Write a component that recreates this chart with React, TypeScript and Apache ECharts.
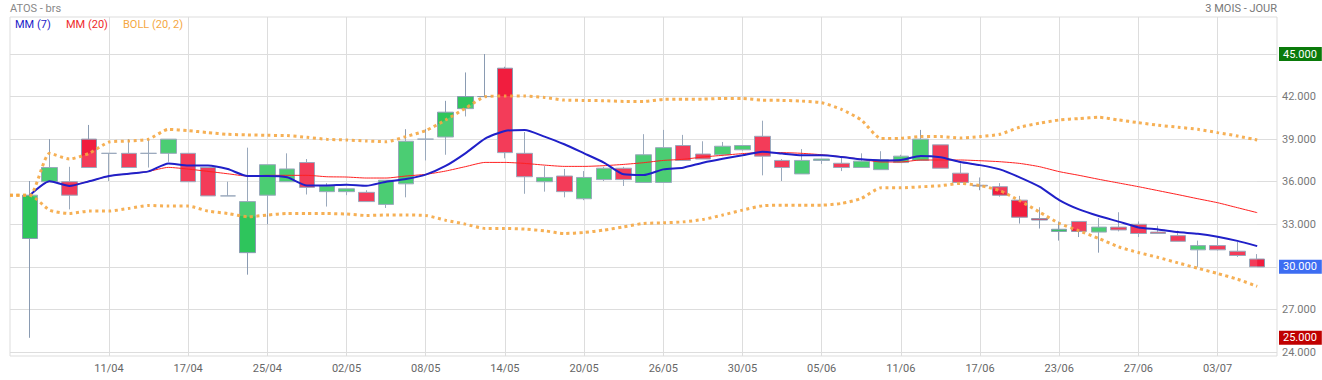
import React, { useEffect, useRef } from "react";
import * as echarts from "echarts";

// Categories (pos 0 and last are padding slots)
const dates = ["04/04", "07/04", "08/04", "09/04", "10/04", "11/04", "14/04", "15/04", "16/04", "17/04", "22/04", "23/04", "24/04", "25/04", "28/04", "29/04", "30/04", "02/05", "05/05", "06/05", "07/05", "08/05", "09/05", "12/05", "13/05", "14/05", "15/05", "16/05", "19/05", "20/05", "21/05", "22/05", "23/05", "26/05", "27/05", "28/05", "29/05", "30/05", "02/06", "03/06", "04/06", "05/06", "06/06", "09/06", "10/06", "11/06", "12/06", "13/06", "16/06", "17/06", "18/06", "19/06", "20/06", "23/06", "24/06", "25/06", "26/06", "27/06", "30/06", "01/07", "02/07", "03/07", "04/07", "07/07", "08/07"];

const opens = [32.0, 36.0, 36.0, 39.0, 38.0, 38.0, 38.0, 38.0, 38.0, 37.0, 35.0, 31.0, 35.05, 36.0, 37.35, 35.3, 35.3, 35.25, 34.4, 35.85, 39.0, 39.15, 41.15, 42.0, 44.0, 38.0, 36.0, 36.4, 34.8, 36.15, 36.95, 35.95, 35.95, 38.55, 37.95, 37.9, 38.25, 39.2, 37.5, 36.55, 37.5, 37.3, 37.0, 36.85, 37.35, 37.5, 38.6, 36.6, 35.75, 35.65, 34.7, 33.4, 32.5, 33.2, 32.45, 32.8, 33.0, 32.45, 32.2, 31.2, 31.5, 31.1, 30.55];
const closes = [35.05, 37.0, 35.05, 37.0, 38.0, 37.0, 38.0, 39.0, 36.0, 35.0, 35.0, 34.6, 37.2, 36.9, 35.6, 35.7, 35.5, 34.6, 36.1, 38.85, 39.0, 40.9, 42.0, 42.0, 38.05, 36.35, 36.3, 35.3, 36.3, 36.95, 36.15, 37.9, 38.4, 37.5, 37.6, 38.5, 38.55, 37.8, 37.0, 37.5, 37.6, 37.0, 37.45, 37.55, 37.8, 39.0, 36.95, 35.95, 35.7, 35.05, 33.5, 33.3, 32.65, 32.5, 32.8, 32.6, 32.35, 32.35, 31.8, 31.5, 31.2, 30.8, 30.0];
const lows = [25.0, 36.0, 34.05, 37.0, 36.05, 37.0, 37.0, 37.4, 36.0, 35.0, 35.0, 29.45, 33.0, 36.0, 35.1, 34.25, 35.05, 34.6, 34.15, 34.9, 37.5, 37.9, 40.6, 42.0, 37.65, 35.15, 35.3, 34.9, 34.7, 36.05, 35.7, 35.95, 35.95, 37.5, 37.6, 37.8, 38.2, 36.45, 36.05, 36.55, 37.25, 36.75, 37.0, 36.85, 37.35, 37.5, 36.95, 35.95, 35.4, 34.95, 33.05, 32.7, 31.85, 32.1, 31.0, 32.5, 32.1, 32.35, 31.8, 30.0, 31.15, 30.7, 30.0];
const highs = [36.05, 39.0, 37.05, 40.0, 38.0, 39.0, 39.0, 39.0, 38.0, 37.0, 36.0, 38.4, 37.2, 38.0, 37.6, 35.9, 35.5, 35.4, 36.1, 39.7, 39.7, 41.7, 43.7, 45.0, 44.1, 39.5, 37.1, 36.9, 36.75, 37.05, 37.05, 39.35, 39.65, 39.3, 38.85, 38.8, 38.55, 40.3, 37.6, 38.3, 37.6, 37.7, 38.0, 38.15, 37.9, 39.65, 38.6, 37.3, 36.3, 35.9, 35.0, 34.2, 33.2, 33.2, 33.45, 33.85, 33.2, 32.9, 32.55, 31.85, 32.15, 31.75, 30.9];

const mm7 = [35.04, 36.03, 35.70, 36.03, 36.40, 36.56, 36.73, 37.29, 37.15, 37.15, 36.89, 36.40, 36.40, 36.31, 35.74, 35.74, 35.79, 35.72, 36.0, 36.19, 36.5, 37.11, 38.0, 39.04, 39.58, 39.65, 39.18, 38.64, 38.0, 37.35, 36.52, 36.47, 36.87, 36.99, 37.34, 37.62, 37.86, 38.12, 37.98, 37.86, 37.86, 37.74, 37.58, 37.5, 37.53, 37.81, 37.72, 37.39, 37.17, 36.87, 36.31, 35.65, 34.71, 34.05, 33.58, 33.19, 32.78, 32.64, 32.45, 32.33, 32.12, 31.83, 31.46];
const mm20 = [35.04, 36.03, 35.75, 36.03, 36.40, 36.56, 36.73, 37.01, 36.89, 36.73, 36.56, 36.40, 36.45, 36.45, 36.45, 36.35, 36.33, 36.26, 36.26, 36.4, 36.52, 36.75, 37.06, 37.36, 37.36, 37.29, 37.17, 37.08, 37.08, 37.13, 37.22, 37.34, 37.5, 37.58, 37.74, 37.86, 37.98, 38.05, 38.05, 38.0, 37.9, 37.76, 37.58, 37.39, 37.39, 37.53, 37.53, 37.53, 37.48, 37.41, 37.29, 37.06, 36.71, 36.45, 36.17, 35.91, 35.65, 35.37, 35.09, 34.8, 34.52, 34.17, 33.82];
// Bollinger bands include the leading padding slot
const bollUpper = [35.04, 35.04, 38.0, 37.6, 38.0, 38.8, 38.87, 39.0, 39.69, 39.6, 39.46, 39.34, 39.3, 39.27, 39.25, 39.13, 38.99, 38.94, 38.87, 38.82, 39.18, 39.6, 40.35, 41.17, 41.99, 42.04, 42.04, 41.94, 41.75, 41.73, 41.71, 41.66, 41.66, 41.8, 41.82, 41.82, 41.87, 41.87, 41.75, 41.73, 41.68, 41.57, 41.1, 40.35, 39.04, 39.06, 39.18, 39.18, 39.08, 39.18, 39.34, 39.84, 40.12, 40.35, 40.45, 40.54, 40.35, 40.16, 39.98, 39.84, 39.69, 39.46, 39.22, 38.94];
const bollLower = [35.04, 35.04, 34.0, 33.76, 33.93, 33.93, 34.12, 34.33, 34.28, 34.28, 33.93, 33.76, 33.53, 33.65, 33.76, 33.76, 33.76, 33.72, 33.62, 33.65, 33.65, 33.62, 33.29, 33.01, 32.71, 32.71, 32.66, 32.54, 32.35, 32.42, 32.59, 32.82, 33.06, 33.1, 33.17, 33.34, 33.65, 34.0, 34.3, 34.35, 34.35, 34.35, 34.47, 34.82, 35.57, 35.57, 35.64, 35.72, 35.88, 35.72, 35.37, 34.66, 33.87, 33.06, 32.54, 32.0, 31.41, 31.01, 30.66, 30.28, 29.9, 29.53, 29.13, 28.63];

const yMin = 24;
const yMax = 45;
const yStep = 3;

const UP = "#2ec55c";
const DOWN = "#f11d3e";
const WICK = "#8a9bb2";

export default function App() {
  const ref = useRef<HTMLDivElement>(null);

  useEffect(() => {
    const chart = echarts.init(ref.current!, null, { renderer: "svg" });
    const padLine = (arr: number[]) => ["-", ...arr, "-"];
    const candles: any[] = [["-", "-", "-", "-"]];
    for (let i = 0; i < opens.length; i++) candles.push([opens[i], closes[i], lows[i], highs[i]]);
    candles.push(["-", "-", "-", "-"]);
    const upperP = [...bollUpper, "-"];
    const lowerP = [...bollLower, "-"];
    const diffP = [...bollUpper.map((u, i) => +(u - bollLower[i]).toFixed(3)), "-"];
    const maxHigh = Math.max(...highs);
    const minLow = Math.min(...lows);
    const lastClose = closes[closes.length - 1];
    const showIdx = (i: number) => i >= 5 && i <= 61 && (i - 1) % 4 === 0;

    const mk = (v: number, bg: string) => ({
      yAxis: v,
      label: {
        show: true,
        position: "end",
        distance: 2,
        formatter: () => v.toFixed(3),
        color: "#fff",
        backgroundColor: bg,
        padding: [2, 5, 1, 4],
        fontSize: 11,
        fontFamily: "Roboto",
      },
    });

    chart.setOption({
      animation: false,
      backgroundColor: "#fff",
      textStyle: { fontFamily: "Roboto" },
      grid: [
        { left: 10, right: 45, top: 17, bottom: 24, show: true, borderColor: "#dddddd", borderWidth: 1 },
        { left: 10, right: 45, top: 54, bottom: 28 },
      ],
      xAxis: [
        {
          type: "category",
          gridIndex: 0,
          data: dates,
          boundaryGap: false,
          axisLine: { show: false },
          axisTick: { show: false },
          axisLabel: { interval: (i: number) => showIdx(i), color: "#666", fontSize: 11, margin: 7 },
          splitLine: { show: true, interval: (i: number) => showIdx(i), lineStyle: { color: "#dddddd", width: 1 } },
        },
        {
          type: "category",
          gridIndex: 1,
          data: dates,
          boundaryGap: false,
          show: false,
        },
      ],
      yAxis: [
        { type: "value", gridIndex: 0, min: 0, max: 1, show: false, splitLine: { show: false } },
        {
          type: "value",
          gridIndex: 1,
          position: "right",
          min: yMin,
          max: yMax,
          interval: yStep,
          axisLine: { show: false },
          axisTick: { show: false },
          axisLabel: { color: "#777", fontSize: 11, margin: 5, formatter: (v: number) => v.toFixed(3) },
          splitLine: { show: true, lineStyle: { color: "#dddddd", width: 1 } },
        },
      ],
      graphic: [
        { type: "text", left: 10, top: 3, style: { text: "ATOS - brs", fill: "#888", fontSize: 11, fontFamily: "Roboto" } },
        { type: "text", right: 45, top: 3, style: { text: "3 MOIS - JOUR", fill: "#777", fontSize: 11, fontFamily: "Roboto" } },
        { type: "text", left: 15, top: 19, style: { text: "MM (7)", fill: "#1c1cc8", fontSize: 11, fontFamily: "Roboto" } },
        { type: "text", left: 66, top: 19, style: { text: "MM (20)", fill: "#ee2a2a", fontSize: 11, fontFamily: "Roboto" } },
        { type: "text", left: 123, top: 19, style: { text: "BOLL (20, 2)", fill: "#f5a742", fontSize: 11, fontFamily: "Roboto" } },
      ],
      series: [
        {
          type: "candlestick",
          xAxisIndex: 1,
          yAxisIndex: 1,
          data: candles,
          barWidth: 16,
          z: 2,
          itemStyle: { color: UP, color0: DOWN, borderColor: WICK, borderColor0: WICK, borderWidth: 1 },
          markLine: {
            silent: true,
            symbol: "none",
            z: 10,
            lineStyle: { width: 0, color: "rgba(0,0,0,0)", type: "solid" },
            data: [mk(maxHigh, "#0a7a0a"), mk(minLow, "#c00000"), mk(lastClose, "#3d6df2")],
          },
        },
        {
          type: "line",
          xAxisIndex: 1,
          yAxisIndex: 1,
          data: lowerP,
          stack: "band",
          symbol: "none",
          smooth: 0.2,
          silent: true,
          z: 3,
          lineStyle: { opacity: 0 },
        },
        {
          type: "line",
          xAxisIndex: 1,
          yAxisIndex: 1,
          data: diffP,
          stack: "band",
          symbol: "none",
          smooth: 0.2,
          silent: true,
          z: 3,
          lineStyle: { opacity: 0 },
          areaStyle: { color: "#ffffff", opacity: 0.14 },
        },
        {
          name: "MM (20)",
          type: "line",
          xAxisIndex: 1,
          yAxisIndex: 1,
          data: padLine(mm20),
          symbol: "none",
          smooth: 0.2,
          z: 4,
          lineStyle: { color: "#ff2020", width: 1 },
        },
        {
          name: "MM (7)",
          type: "line",
          xAxisIndex: 1,
          yAxisIndex: 1,
          data: padLine(mm7),
          symbol: "none",
          smooth: 0.2,
          z: 5,
          lineStyle: { color: "#2020c8", width: 2 },
        },
        {
          name: "BOLL up",
          type: "line",
          xAxisIndex: 1,
          yAxisIndex: 1,
          data: upperP,
          symbol: "none",
          smooth: 0.2,
          z: 6,
          lineStyle: { color: "#f5a742", width: 3, type: [3, 3.5], opacity: 0.9 },
        },
        {
          name: "BOLL low",
          type: "line",
          xAxisIndex: 1,
          yAxisIndex: 1,
          data: lowerP,
          symbol: "none",
          smooth: 0.2,
          z: 6,
          lineStyle: { color: "#f5a742", width: 3, type: [3, 3.5], opacity: 0.9 },
        },
      ],
    });
    return () => chart.dispose();
  }, []);

  return (
    <div
      ref={ref}
      style={{ position: "absolute", left: 0, top: 0, width: 1322, height: 380, background: "#fff" }}
    />
  );
}
